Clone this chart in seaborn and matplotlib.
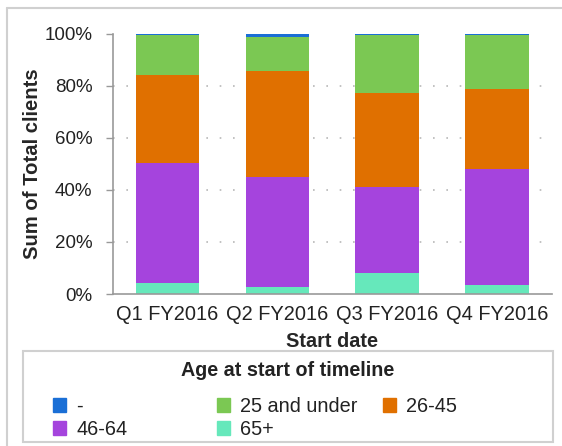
import matplotlib
matplotlib.use('Agg')
import matplotlib.pyplot as plt
import matplotlib.patches as mpatches
import matplotlib.lines as mlines
import pandas as pd
import seaborn as sns

quarters = ['Q1 FY2016', 'Q2 FY2016', 'Q3 FY2016', 'Q4 FY2016']

# Share of clients per age group (percent), bottom to top of each bar.
age_65_plus = [4.1, 2.6, 8.0, 3.3]
age_46_64 = [46.2, 42.4, 33.2, 44.7]
age_26_45 = [33.9, 40.8, 36.1, 30.8]
age_25_under = [15.3, 12.9, 22.3, 20.8]
age_dash = [0.5, 1.3, 0.4, 0.4]

groups = ['65+', '46-64', '26-45', '25 and under', '-']
colors = {
    '-': '#1a6fd6',
    '25 and under': '#7bc853',
    '26-45': '#e07000',
    '46-64': '#a544dd',
    '65+': '#66e8bb',
}

df = pd.DataFrame({
    'quarter': quarters,
    '65+': age_65_plus,
    '46-64': age_46_64,
    '26-45': age_26_45,
    '25 and under': age_25_under,
    '-': age_dash,
})

# Cumulative tops, so bars can be drawn tallest first and overlaid.
cum = df[groups].cumsum(axis=1)

sns.set_style('white')
plt.rcParams['font.family'] = ['Liberation Sans', 'DejaVu Sans']

W, H = 562, 446
fig = plt.figure(figsize=(W / 100, H / 100), dpi=100)
ax = fig.add_axes([0.2005, 0.3408, 0.7815, 0.583])

for g in reversed(groups):
    sns.barplot(x=df['quarter'], y=cum[g], color=colors[g], width=0.58,
                linewidth=0, saturation=1, ax=ax, zorder=2)

ax.set_ylim(0, 100)
ax.set_xlim(-0.5, 3.5)
ax.set_yticks([0, 20, 40, 60, 80, 100])
ax.set_yticklabels([f'{v}%' for v in [0, 20, 40, 60, 80, 100]])
for v in [20, 40, 60, 80]:
    ax.axhline(v, color='#b8b8b8', linestyle=(0, (1, 7)), linewidth=1.2, zorder=0)

ax.set_xticks([-0.5, 0.5, 1.5, 2.5, 3.5], minor=True)
ax.tick_params(axis='x', which='major', length=0, labelsize=14.4, colors='#222222', pad=8)
ax.tick_params(axis='x', which='minor', length=6, width=1, color='#999999', direction='out')
ax.tick_params(axis='y', length=5, width=1, color='#999999', labelsize=13.5,
               labelcolor='#222222', left=True, direction='out', pad=9.5)

sns.despine(ax=ax)
for s in ['left', 'bottom']:
    ax.spines[s].set_color('#999999')
    ax.spines[s].set_linewidth(1.2)

ax.set_xlabel('Start date', fontsize=14.3, fontweight='bold', labelpad=6)
ax.set_ylabel('Sum of Total clients', fontsize=14.6, fontweight='bold')
ax.yaxis.set_label_coords((42 - 112.7) / 439.3, 0.5)

# outer frame (top and left edges only are inside the picture)
fig.add_artist(mlines.Line2D([7 / W, 7 / W], [0, 1 - 8 / H], transform=fig.transFigure,
                             color='#d0d0d0', linewidth=1.5))
fig.add_artist(mlines.Line2D([7 / W, 1], [1 - 8 / H, 1 - 8 / H], transform=fig.transFigure,
                             color='#d0d0d0', linewidth=1.5))

# legend box and title
fig.add_artist(mpatches.Rectangle((23 / W, 1 - 442 / H), 530 / W, 91 / H,
                                  transform=fig.transFigure, fill=False,
                                  edgecolor='#d0d0d0', linewidth=1.5))
fig.text(288 / W, 1 - 371 / H, 'Age at start of timeline', ha='center', va='center',
         fontsize=14.2, fontweight='bold', color='#222222')

# three fixed-width legend columns
columns = [(['-', '46-64'], 53), (['25 and under', '65+'], 217), (['26-45'], 383)]
for labels, x0 in columns:
    handles = [mpatches.Patch(color=colors[g], label=g) for g in labels]
    leg = fig.legend(handles=handles, loc='upper left',
                     bbox_to_anchor=(x0 / W, 1 - 397 / H),
                     fontsize=14.3, frameon=False, borderpad=0, borderaxespad=0,
                     handlelength=0.67, handleheight=0.67, handletextpad=0.5,
                     labelspacing=0.2)
    for t in leg.get_texts():
        t.set_color('#222222')

fig.savefig('out.png', dpi=100)
